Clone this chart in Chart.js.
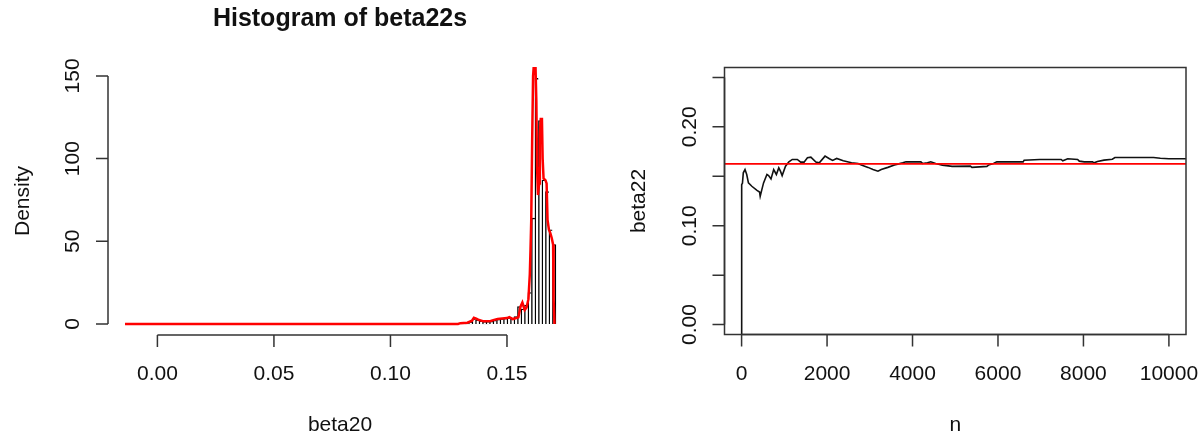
<!DOCTYPE html>
<html>
<head>
<meta charset="utf-8">
<script src="https://cdn.jsdelivr.net/npm/chart.js@4.4.1/dist/chart.umd.min.js"></script>
<style>
  html, body { margin: 0; padding: 0; background: #fff; }
  #wrap { display: flex; width: 1204px; height: 440px; }
  canvas { display: block; }
</style>
</head>
<body>
<div id="wrap">
  <canvas id="histChart" width="602" height="440"></canvas>
  <canvas id="traceChart" width="602" height="440"></canvas>
</div>
<script>
// left panel: histogram of beta22s (bin midpoints, bin width 0.0015) with density curve
const histMids = [0.12975, 0.13125, 0.13275, 0.13425, 0.13575, 0.13725, 0.13875, 0.14025,
  0.14175, 0.14325, 0.14475, 0.14625, 0.14775, 0.14925, 0.15075, 0.15225, 0.15375, 0.15525,
  0.15675, 0.15825, 0.15975, 0.16125, 0.16275, 0.16425, 0.16575, 0.16725, 0.16875, 0.17025];
const histDensity = [0.4, 0.5, 0.8, 1.2, 3.2, 2.6, 1.8, 1.5,
  1.4, 1.6, 2.2, 2.8, 3.2, 3.4, 3.8, 3.2, 4.5, 10.5,
  9.0, 11.5, 19.0, 64.0, 148.5, 123.0, 87.0, 80.0, 57.0, 48.0];
const densX = [-0.0139, 0.1290, 0.1300, 0.1330, 0.1350, 0.1358, 0.1368, 0.1380, 0.1400, 0.1430,
  0.1445, 0.1460, 0.1480, 0.1500, 0.1510, 0.1525, 0.1540, 0.1549, 0.1558, 0.1566, 0.1576,
  0.1584, 0.1592, 0.1598, 0.1601, 0.1604, 0.1608, 0.1612, 0.1616, 0.1622, 0.1626, 0.1629,
  0.1633, 0.1638, 0.1641, 0.1645, 0.1650, 0.1653, 0.1657, 0.1665, 0.1670, 0.1674, 0.1680,
  0.1686, 0.1692, 0.1698, 0.1700, 0.1704];
const densY = [0, 0, 0.5, 0.8, 2.0, 3.8, 3.2, 2.4, 1.6, 1.8,
  2.5, 3.0, 3.4, 3.6, 4.2, 3.0, 3.6, 4.0, 10.5, 13.0, 8.5,
  10.0, 15.0, 30.0, 45.0, 62.0, 110.0, 150.0, 158.0, 158.0, 135.0, 95.0,
  78.0, 85.0, 115.0, 124.0, 124.0, 100.0, 88.0, 87.0, 85.0, 63.0, 57.0,
  55.0, 52.0, 48.0, 15.0, 0];
const histXTicks = [0, 0.05, 0.10, 0.15];
const histXLabels = ['0.00', '0.05', '0.10', '0.15'];
const histYTicks = [0, 50, 100, 150];
const histYLabels = ['0', '50', '100', '150'];

// right panel: running estimate of beta22 against n, with reference line
const traceN = [1, 2, 20, 40, 80, 120, 160, 240, 360, 420, 435, 474, 514, 593, 632, 688, 751,
  814, 870, 909, 949, 1028, 1107, 1186, 1304, 1383, 1462, 1541, 1621, 1739, 1818, 1953, 2055,
  2130, 2225, 2379, 2572, 2727, 2804, 2959, 3075, 3191, 3268, 3423, 3577, 3654, 3770, 3847,
  4195, 4233, 4349, 4426, 4542, 4697, 4929, 5353, 5392, 5740, 5778, 5894, 5972, 6589, 6612,
  6976, 7478, 7516, 7632, 7864, 7903, 8019, 8212, 8250, 8327, 8482, 8675, 8737, 9641, 9800,
  10000, 10600];
const traceBeta = [-0.05, 0.1416, 0.1430, 0.1535, 0.1568, 0.1518, 0.1433, 0.1399, 0.1358, 0.1341,
  0.1297, 0.1365, 0.1433, 0.1518, 0.1507, 0.1474, 0.1568,
  0.1518, 0.1585, 0.1552, 0.1507, 0.1602, 0.1646, 0.1670, 0.1670, 0.1643, 0.1643, 0.1687,
  0.1694, 0.1643, 0.1636, 0.1704, 0.1677,
  0.1660, 0.1680, 0.1657, 0.1636, 0.1630, 0.1613, 0.1590, 0.1569, 0.1552, 0.1569, 0.1590,
  0.1613, 0.1623, 0.1636, 0.1646,
  0.1646, 0.1630, 0.1636, 0.1646, 0.1630, 0.1613, 0.1600, 0.1603, 0.1590, 0.1600, 0.1613,
  0.1630, 0.1646, 0.1646, 0.1663,
  0.1670, 0.1670, 0.1657, 0.1677, 0.1670, 0.1653, 0.1646, 0.1646, 0.1636, 0.1650, 0.1663,
  0.1673, 0.1690, 0.1690, 0.1683,
  0.1677, 0.1677];
const refBeta = 0.1625;
const traceXTicks = [0, 2000, 4000, 6000, 8000, 10000];
const traceXLabels = ['0', '2000', '4000', '6000', '8000', '10000'];
const traceYTicks = [0, 0.05, 0.10, 0.15, 0.20, 0.25];
const traceYLabels = ['0.00', '', '0.10', '', '0.20', ''];

const FONT = '"Liberation Sans", Arial, sans-serif';
const AXIS = '#333333';
const INK = '#111111';

// draws R-style axes, titles, optional box and horizontal reference line
function rFrame(cfg) {
  return {
    id: 'rFrame',
    afterDatasetsDraw(chart) {
      if (cfg.hline === undefined) return;
      const { ctx, chartArea: a, scales: { y } } = chart;
      const py = y.getPixelForValue(cfg.hline);
      ctx.save();
      ctx.beginPath();
      ctx.rect(a.left, a.top, a.right - a.left, a.bottom - a.top);
      ctx.clip();
      ctx.strokeStyle = '#ff0000';
      ctx.lineWidth = 1.6;
      ctx.beginPath();
      ctx.moveTo(a.left, py);
      ctx.lineTo(a.right, py);
      ctx.stroke();
      ctx.restore();
    },
    afterDraw(chart) {
      const { ctx, chartArea: a, scales: { x, y } } = chart;
      const tick = 12;
      ctx.save();
      ctx.strokeStyle = AXIS;
      ctx.lineWidth = 1.5;
      if (cfg.box) ctx.strokeRect(a.left, a.top, a.right - a.left, a.bottom - a.top);

      const xs = cfg.xTicks.map(v => x.getPixelForValue(v));
      const ys = cfg.yTicks.map(v => y.getPixelForValue(v));
      ctx.beginPath();
      ctx.moveTo(xs[0], a.bottom);
      ctx.lineTo(xs[xs.length - 1], a.bottom);
      xs.forEach(px => { ctx.moveTo(px, a.bottom); ctx.lineTo(px, a.bottom + tick); });
      ctx.moveTo(a.left, ys[0]);
      ctx.lineTo(a.left, ys[ys.length - 1]);
      ys.forEach(py => { ctx.moveTo(a.left, py); ctx.lineTo(a.left - tick, py); });
      ctx.stroke();

      ctx.fillStyle = INK;
      ctx.font = '21px ' + FONT;
      ctx.textAlign = 'center';
      ctx.textBaseline = 'alphabetic';
      xs.forEach((px, i) => ctx.fillText(cfg.xLabels[i], px, a.bottom + 45));
      ys.forEach((py, i) => {
        if (!cfg.yLabels[i]) return;
        ctx.save();
        ctx.translate(a.left - 29, py);
        ctx.rotate(-Math.PI / 2);
        ctx.fillText(cfg.yLabels[i], 0, 0);
        ctx.restore();
      });

      const midX = (a.left + a.right) / 2;
      const midY = (a.top + a.bottom) / 2;
      ctx.fillText(cfg.xTitle, midX, a.bottom + 96);
      ctx.save();
      ctx.translate(a.left - 79.5, midY);
      ctx.rotate(-Math.PI / 2);
      ctx.fillText(cfg.yTitle, 0, 0);
      ctx.restore();

      if (cfg.title) {
        ctx.font = 'bold 25px ' + FONT;
        ctx.fillText(cfg.title, midX, 26);
      }
      ctx.restore();
    }
  };
}

const baseOptions = (pad, xr, yr) => ({
  responsive: false,
  animation: false,
  devicePixelRatio: 1,
  events: [],
  layout: { padding: pad, autoPadding: false },
  plugins: { legend: { display: false }, tooltip: { enabled: false } },
  scales: {
    x: { type: 'linear', min: xr[0], max: xr[1], display: false, offset: false },
    y: { type: 'linear', min: yr[0], max: yr[1], display: false }
  }
});

new Chart(document.getElementById('histChart'), {
  type: 'bar',
  data: {
    datasets: [
      {
        type: 'line',
        data: densX.map((v, i) => ({ x: v, y: densY[i] })),
        borderColor: '#ff0000',
        borderWidth: 2.5,
        pointRadius: 0,
        tension: 0,
        order: 1
      }, {
        type: 'bar',
        data: histMids.map((m, i) => ({ x: m, y: histDensity[i] })),
        backgroundColor: '#ffffff',
        borderColor: '#000000',
        borderWidth: c => ({ top: 1.3, left: 1.4, bottom: 0, right: c.dataIndex === histMids.length - 1 ? 1.4 : 0 }),
        borderSkipped: false,
        barPercentage: 1,
        categoryPercentage: 1,
        order: 2
      }]
  },
  options: baseOptions({ left: 108, right: 30, top: 67, bottom: 105 }, [-0.0212, 0.1779], [-6.65, 155.4]),
  plugins: [rFrame({
    title: 'Histogram of beta22s', xTitle: 'beta20', yTitle: 'Density',
    xTicks: histXTicks, xLabels: histXLabels, yTicks: histYTicks, yLabels: histYLabels
  })]
});

new Chart(document.getElementById('traceChart'), {
  type: 'line',
  data: {
    datasets: [{
      data: traceN.map((n, i) => ({ x: n, y: traceBeta[i] })),
      borderColor: '#111111',
      borderWidth: 1.6,
      pointRadius: 0,
      tension: 0
    }]
  },
  options: baseOptions({ left: 122.5, right: 18, top: 67.5, bottom: 105.5 }, [-400, 10400], [-0.01, 0.26]),
  plugins: [rFrame({
    box: true, hline: refBeta, xTitle: 'n', yTitle: 'beta22',
    xTicks: traceXTicks, xLabels: traceXLabels, yTicks: traceYTicks, yLabels: traceYLabels
  })]
});
</script>
</body>
</html>
